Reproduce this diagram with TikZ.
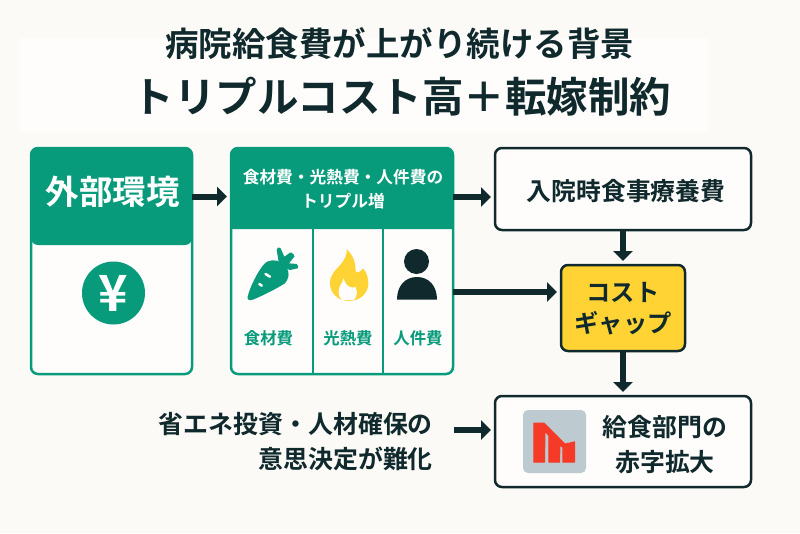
\documentclass[tikz,border=0pt]{standalone}
\usepackage{fontspec}
\setmainfont{Noto Sans CJK JP}[BoldFont={* Bold}]
\usetikzlibrary{arrows.meta, positioning}
\definecolor{bggray}{HTML}{FBFAF6}
\definecolor{panelwhite}{HTML}{FEFDFB}
\definecolor{costgreen}{HTML}{079B7C}
\definecolor{inkdark}{HTML}{10292D}
\definecolor{gapyellow}{HTML}{FFD333}
\definecolor{lossred}{HTML}{F53A28}
\definecolor{iconback}{HTML}{BDCACF}
\begin{document}
\begin{tikzpicture}[
x=1pt, y=-1pt,
txt/.style={inner sep=0pt, outer sep=0pt, align=center, text=inkdark, font=\bfseries\fontsize{#1}{#1}\selectfont},
greenbox/.style={rectangle, draw=costgreen, line width=2.5pt, rounded corners=7pt, fill=panelwhite, minimum width=#1, outer sep=0pt, inner sep=0pt},
darkbox/.style={rectangle, draw=inkdark, line width=2.5pt, rounded corners=7pt, fill=panelwhite, minimum width=256pt, outer sep=0pt, align=center, text=inkdark},
label/.style={inner sep=0pt, text=costgreen, font=\bfseries\fontsize{16.4}{16.4}\selectfont},
arrow/.style={-{Triangle[length=10pt,width=19pt]}, line width=6pt, draw=inkdark, shorten >=4pt}
]
\useasboundingbox (0,0) rectangle (800,533);
\fill[bggray] (0,0) rectangle (800,533);
\fill[panelwhite] (20,38) rectangle (708,133);

\node[txt=33.5] (subtitle) at (399.5,44) {病院給食費が上がり続ける背景};
\node[txt=41.5] (title) at (402,97) {トリプルコスト高＋転嫁制約};

% left box
\node[greenbox=161pt, minimum height=226pt] (extbox) at (111.5,261) {};
\node[rectangle, fill=costgreen, rounded corners=7pt, minimum width=161pt, minimum height=97pt, outer sep=0pt, inner sep=0pt] (exthead) at (111.5,196.5) {};
\node[inner sep=0pt, text=white, font=\bfseries\fontsize{33.5}{33.5}\selectfont] (exttext) at (112.5,192) {外部環境};
\node[circle, fill=costgreen, minimum size=63pt, inner sep=0pt, text=white, font=\bfseries\fontsize{50}{50}\selectfont] (yen) at (113.5,293) {¥};

% middle box
\node[greenbox=222pt, minimum height=226pt] (midbox) at (342,261) {};
\fill[costgreen, rounded corners=7pt] (231,229) [sharp corners] -- (231,229) [rounded corners=7pt] -- (231,148) -- (453,148) [sharp corners] -- (453,229) -- cycle;
\node[inner sep=0pt, align=center, text=white, font=\bfseries\fontsize{16.7}{24}\selectfont] (midtext) at (343,189) {食材費・光熱費・人件費の\\トリプル増};
\coordinate (midhead) at (342,197);
\coordinate (midlow) at (342,292);
\draw[costgreen, line width=2pt] (312.5,229) -- (312.5,373) (383,229) -- (383,373);

% carrot
\fill[costgreen] (247.7,296.5) .. controls (250,287) and (257,273) .. (263.3,265) .. controls (268,259) and (276,259) .. (282,263) .. controls (289,268) and (291,276) .. (285,283.3) .. controls (276,289) and (262,296) .. (253.3,299.5) .. controls (249.5,301) and (247,300) .. (247.7,296.5) -- cycle;
\fill[costgreen] (278.5,261) -- (276.7,250) .. controls (276.5,247.5) and (279,246.5) .. (280.5,248) -- (284.3,256.7) -- (290,252.7) .. controls (291.5,251.8) and (295,255) .. (294.3,256.7) -- (289,263.3) -- (296.7,264) .. controls (298.5,264.5) and (298.5,268) .. (297.7,268.3) -- (290,270) -- (283,267) -- cycle;
\draw[panelwhite, line width=2.5pt, line cap=round] (265.5,274) -- (270,276.7) (259.3,284) -- (261.8,285.7);
\node[label] (carrotlabel) at (268.5,338) {食材費};

% flame
\fill[gapyellow] (346.7,249.3) .. controls (352,254) and (356,262) .. (355.5,270) .. controls (356,272) and (357,273) .. (357.5,272.5) .. controls (360,272) and (362,270) .. (363.3,268.3) .. controls (367,273) and (368.5,279) .. (368.3,284) .. controls (368,294) and (359,301) .. (349,301) .. controls (338,301) and (330,293) .. (330,283.3) .. controls (330,274) and (336,270) .. (341,264) .. controls (345,259) and (347,255) .. (346.7,249.3) -- cycle;
\fill[panelwhite] (343.5,278.3) .. controls (345,283) and (347,286) .. (350,287) .. controls (352,288) and (354,287.5) .. (355.5,287) .. controls (357.5,291) and (357.5,296) .. (354,300) -- (342,300) .. controls (337.5,296) and (338,290) .. (340,286) .. controls (341.5,283.5) and (343,281) .. (343.5,278.3) -- cycle;
\node[label] (flamelabel) at (348,338) {光熱費};

% person
\fill[inkdark] (416.5,261.5) circle (12.5);
\fill[inkdark] (397,299.5) .. controls (397,286) and (405,277) .. (417,277) .. controls (429,277) and (437,286) .. (437,299.5) -- cycle;
\node[label] (personlabel) at (418,338) {人件費};

% right column
\node[darkbox, minimum height=82pt] (meal) at (623,189) {};
\node[inner sep=0pt, text=inkdark, font=\bfseries\fontsize{24.8}{30}\selectfont] (mealtext) at (626,191.5) {入院時食事療養費};
\node[rectangle, draw=inkdark, line width=2.5pt, rounded corners=7pt, fill=gapyellow, minimum width=124pt, minimum height=86pt, outer sep=0pt, inner sep=0pt] (gap) at (623,308) {};
\node[inner sep=0pt, align=center, text=inkdark, font=\bfseries\fontsize{24.3}{31}\selectfont] (gaptext) at (623,309) {コスト\\ギャップ};
\node[darkbox, minimum height=91pt] (loss) at (623,441.5) {};
\node[rectangle, fill=iconback, rounded corners=5pt, minimum size=63pt, outer sep=0pt, inner sep=0pt] (lossicon) at (554.5,441.5) {};
\fill[lossred, draw=lossred, line width=1pt, line join=round] (533.8,423.2) -- (544.2,423.2) -- (565,444) -- (570,443) -- (574.5,441.8) -- (574.5,462.2) -- (562.8,462.2) -- (562.8,447) -- (560,445.5) -- (559.5,462.2) -- (548.8,462.2) -- (548.8,435.5) -- (545,431.3) -- (544.5,462.2) -- (533.8,462.2) -- cycle;
\node[inner sep=0pt, align=center, text=inkdark, font=\bfseries\fontsize{24.9}{35}\selectfont] (losstext) at (665,444.5) {給食部門の\\赤字拡大};

\node[inner sep=0pt, align=right, text=inkdark, anchor=east, font=\bfseries\fontsize{24.9}{35}\selectfont] (policy) at (433,441.5) {省エネ投資・人材確保の\\意思決定が難化};

\draw[arrow] (exthead.east) -- (exthead.east -| midbox.west);
\draw[arrow] (midbox.east |- midhead) -- (meal.west |- midhead);
\draw[arrow] (midbox.east |- midlow) -- (gap.west |- midlow);
\draw[arrow] (meal) -- (gap);
\draw[arrow] (gap) -- (loss);
\draw[arrow, shorten <=21pt] (policy.east |- 0,430) -- (loss.west |- 0,430);

\end{tikzpicture}
\end{document}
